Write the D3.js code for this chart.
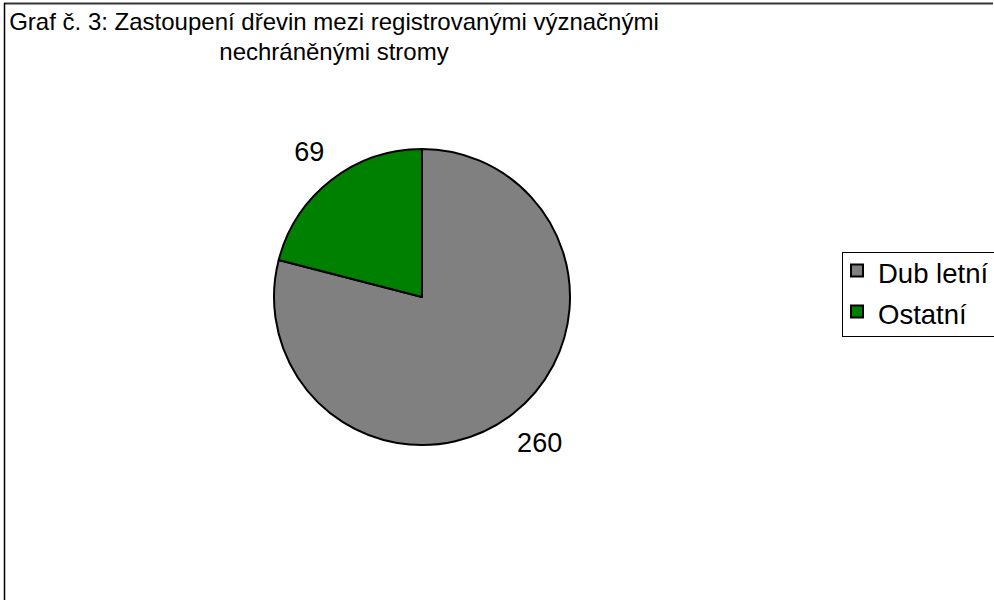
<!DOCTYPE html>
<html>
<head>
<meta charset="utf-8">
<script src="https://cdn.jsdelivr.net/npm/d3@7"></script>
<style>
  html, body { margin: 0; padding: 0; background: #fff; }
  svg { display: block; font-family: "Liberation Sans", Arial, sans-serif; }
</style>
</head>
<body>
<svg id="chart" width="994" height="600"></svg>
<script>
const categories = ['Dub letní', 'Ostatní'];
const values = [260, 69];
const colors = ['#808080', '#008000'];
const titleLines = ['Graf č. 3: Zastoupení dřevin mezi registrovanými význačnými', 'nechráněnými stromy'];

const svg = d3.select('#chart');
const W = 994, H = 600;

// frame
svg.append('line')
    .attr('x1', 4).attr('y1', 3.5).attr('x2', 993).attr('y2', 3.5)
    .attr('stroke', '#333').attr('stroke-width', 2);
svg.append('line')
    .attr('x1', 4.5).attr('y1', 3).attr('x2', 4.5).attr('y2', H)
    .attr('stroke', '#000').attr('stroke-width', 1.5);

// title
const title = svg.append('text')
    .attr('x', 334).attr('y', 30)
    .attr('text-anchor', 'middle')
    .attr('font-size', 24).attr('fill', '#000');
titleLines.forEach((t, i) => {
  title.append('tspan').attr('x', 334).attr('dy', i === 0 ? 0 : 30).text(t);
});

// pie
const cx = 422, cy = 297, r = 148;
const pie = d3.pie().sort(null).value(d => d)(values);
const arc = d3.arc().innerRadius(0).outerRadius(r);
const g = svg.append('g').attr('transform', `translate(${cx},${cy})`);

g.selectAll('path')
  .data(pie)
  .join('path')
    .attr('d', arc)
    .attr('fill', (d, i) => colors[i])
    .attr('stroke', '#000').attr('stroke-width', 2)
    .attr('stroke-linejoin', 'round');

// value labels outside slices
const labelArc = d3.arc().innerRadius(r + 36).outerRadius(r + 36);
g.selectAll('text.val')
  .data(pie)
  .join('text')
    .attr('class', 'val')
    .attr('transform', d => {
      const [x, y] = labelArc.centroid(d);
      return `translate(${x + (x > 0 ? 5 : 0)},${y})`;
    })
    .attr('text-anchor', 'middle')
    .attr('dy', '0.36em')
    .attr('font-size', 27).attr('fill', '#000')
    .text(d => d.data);

// legend
const lg = svg.append('g').attr('transform', 'translate(842,252)');
lg.append('rect')
    .attr('x', 0.5).attr('y', 0.5).attr('width', 160).attr('height', 84)
    .attr('fill', '#fff').attr('stroke', '#000').attr('stroke-width', 1);
categories.forEach((c, i) => {
  const y = 12.5 + i * 41;
  lg.append('rect')
      .attr('x', 9).attr('y', y).attr('width', 12).attr('height', 12)
      .attr('fill', colors[i]).attr('stroke', '#000').attr('stroke-width', 2);
  lg.append('text')
      .attr('x', 36).attr('y', y + 18.5)
      .attr('font-size', 27.5).attr('fill', '#000')
      .text(c);
});
</script>
</body>
</html>
